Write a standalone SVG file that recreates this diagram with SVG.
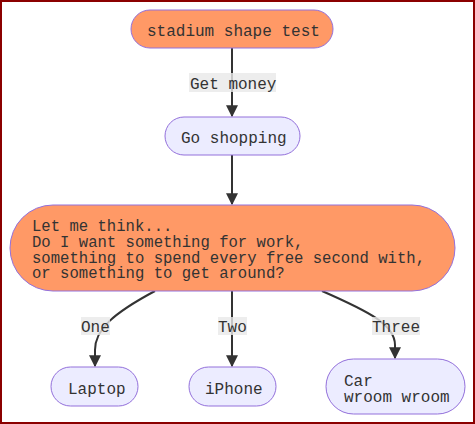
<svg xmlns="http://www.w3.org/2000/svg" width="475" height="424" viewBox="0 0 475 424">
<style>
.orange{fill:#ff9966;stroke:#9370db;stroke-width:1}
.lav{fill:#ececff;stroke:#9370db;stroke-width:1}
text{font-family:"Liberation Mono","DejaVu Sans Mono",monospace;font-size:16px;fill:#333}
.big{font-size:15.6px}
.edge{fill:none;stroke:#333;stroke-width:2}
.lbl{fill:#e8e8e8;opacity:0.8}
</style>
<defs>
<marker id="arr" viewBox="0 0 10 10" refX="9" refY="5" markerWidth="6" markerHeight="6" markerUnits="strokeWidth" orient="auto">
<path d="M0,0 L10,5 L0,10 z" fill="#333"/>
</marker>
</defs>
<rect x="0" y="0" width="475" height="424" fill="#fff"/>
<rect x="1" y="1" width="473" height="422" fill="none" stroke="#8b0000" stroke-width="2"/>
<g id="connectors">
<path class="edge" d="M232,48 L232,116" marker-end="url(#arr)"/>
<path class="edge" d="M232,155 L232,204" marker-end="url(#arr)"/>
<path class="edge" d="M155,291 C112,314 95,330 95,350 L95,366" marker-end="url(#arr)"/>
<path class="edge" d="M232,291 L232,366" marker-end="url(#arr)"/>
<path class="edge" d="M322,291 C370,312 395,325 395,345 L395,358" marker-end="url(#arr)"/>
</g>
<g id="edge-labels">
<rect class="lbl" x="189" y="73" width="87" height="19"/>
<text x="190" y="89">Get money</text>
<rect class="lbl" x="81" y="317" width="29" height="18"/>
<text x="81" y="332">One</text>
<rect class="lbl" x="218" y="317" width="29" height="18"/>
<text x="218" y="332">Two</text>
<rect class="lbl" x="372" y="317" width="48" height="18"/>
<text x="372" y="332">Three</text>
</g>
<g id="stadium">
<rect class="orange" x="131" y="10" width="202" height="38" rx="19"/>
<text x="147" y="36">stadium shape test</text>
</g>
<g id="shopping">
<rect class="lav" x="165" y="117" width="135" height="38" rx="19"/>
<text x="181" y="143">Go shopping</text>
</g>
<g id="think">
<rect class="orange" x="10" y="205" width="445" height="86" rx="43"/>
<text class="big" x="32" y="231">Let me think...</text>
<text class="big" x="32" y="247">Do I want something for work,</text>
<text class="big" x="32" y="263">something to spend every free second with,</text>
<text class="big" x="32" y="278">or something to get around?</text>
</g>
<g id="laptop">
<rect class="lav" x="51" y="367" width="87" height="39" rx="19.5"/>
<text x="68" y="394">Laptop</text>
</g>
<g id="iphone">
<rect class="lav" x="189" y="367" width="87" height="39" rx="19.5"/>
<text x="205" y="394">iPhone</text>
</g>
<g id="car">
<rect class="lav" x="326" y="359" width="139" height="55" rx="27.5"/>
<text x="344" y="386">Car</text>
<text x="344" y="402">wroom wroom</text>
</g>
</svg>
